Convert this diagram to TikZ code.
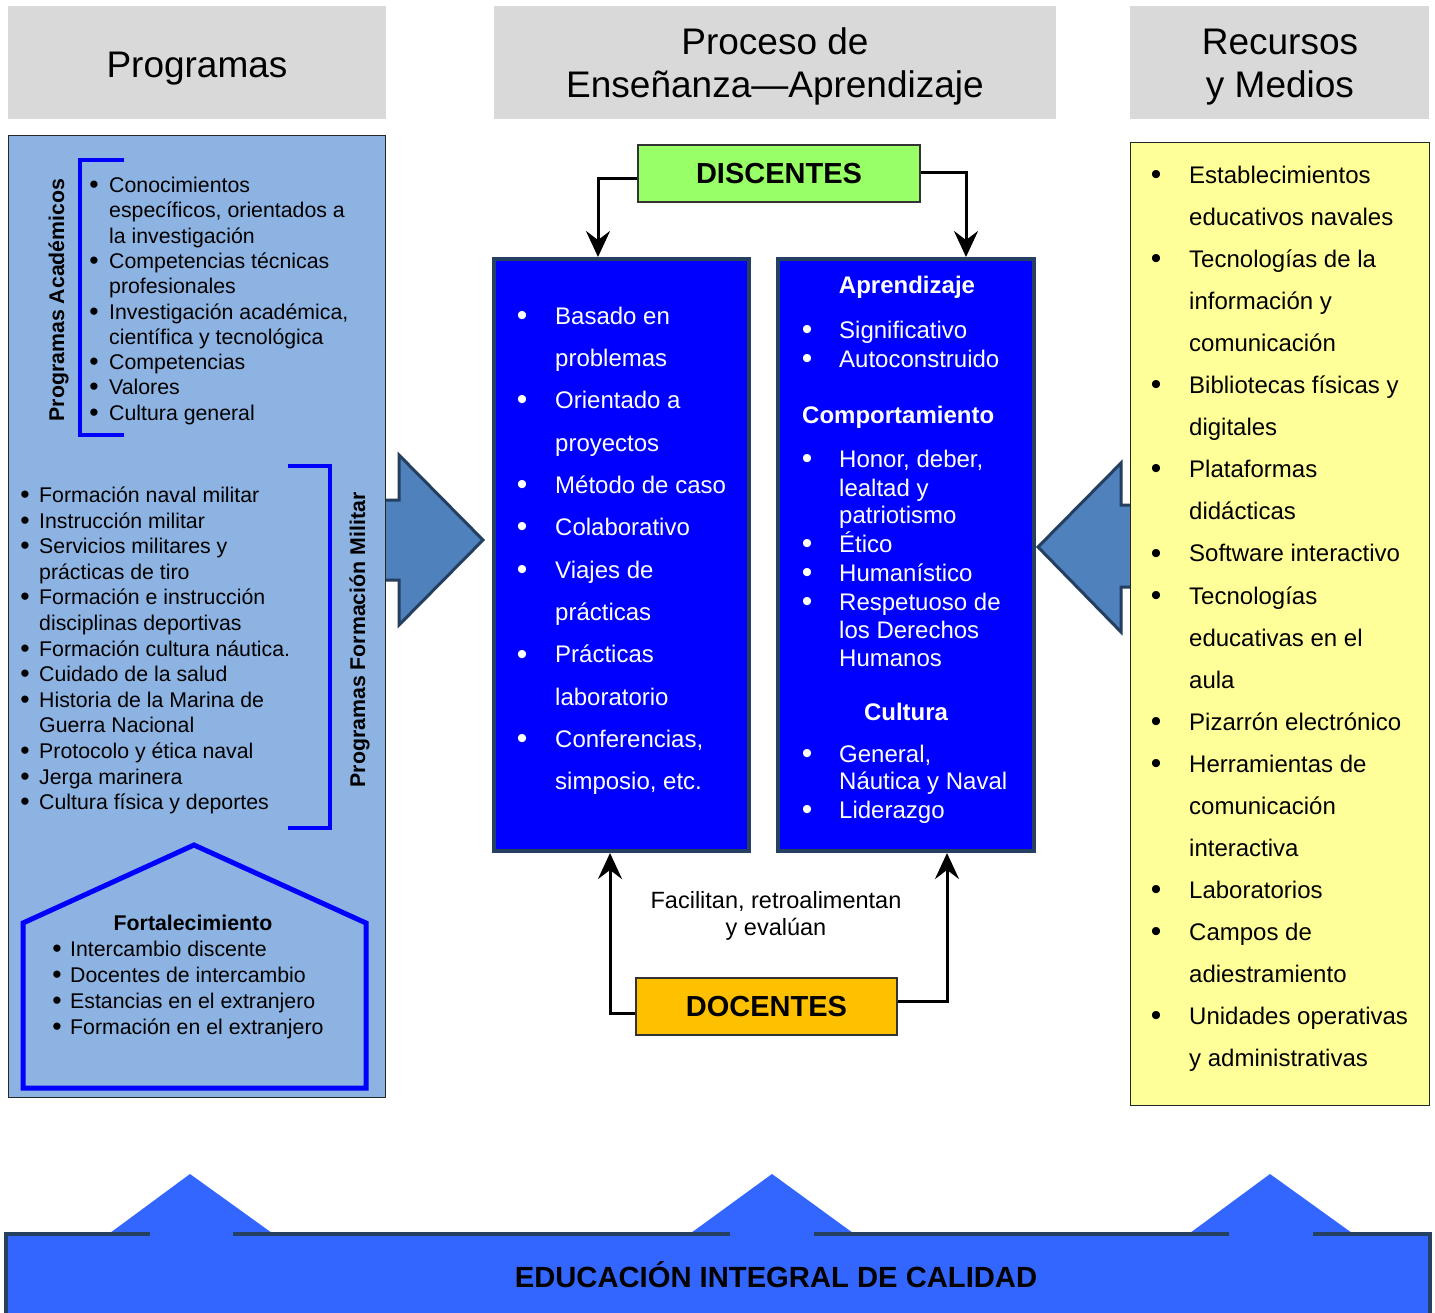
\documentclass[tikz,border=0pt]{standalone}
\usepackage{fontspec}
\setmainfont{Liberation Sans}
\usetikzlibrary{arrows.meta}
\definecolor{hdrgray}{HTML}{D9D9D9}
\definecolor{panelblue}{HTML}{8DB3E2}
\definecolor{arrowfill}{HTML}{4F81BD}
\definecolor{arrowline}{HTML}{243F60}
\definecolor{navy}{HTML}{254061}
\definecolor{pureblue}{HTML}{0000FF}
\definecolor{lightyellow}{HTML}{FFFF99}
\definecolor{lightgreen}{HTML}{99FF66}
\definecolor{amber}{HTML}{FFC000}
\definecolor{bandblue}{HTML}{3366FF}
\newcommand\bigbul{\raisebox{-0.05em}{\scalebox{1.25}{\textbullet}}}
\newcommand\mklist[7]{%
  \foreach \lb/\lt [count=\li from 0] in {#7}{%
    \node[#2, anchor=base west] (#1\li) at (#4,{#5+#6*\li}) {\lt};
    \ifnum\lb=1 \node[#2, anchor=base] (#1b\li) at (#3,{#5+#6*\li}) {\bigbul};\fi
  }}
\tikzset{
  t21/.style={inner sep=0, font=\fontsize{21.3}{25}\selectfont},
  b21/.style={inner sep=0, font=\fontsize{21.3}{25}\selectfont\bfseries},
  t24/.style={inner sep=0, font=\fontsize{24}{28}\selectfont},
  t24w/.style={inner sep=0, text=white, font=\fontsize{24}{28}\selectfont},
  b24w/.style={inner sep=0, text=white, font=\fontsize{24}{28}\selectfont\bfseries},
  hdr/.style={inner sep=0, font=\fontsize{37}{42}\selectfont},
  hdrbox/.style={fill=hdrgray, draw=none, inner sep=0, anchor=north west},
  cbox/.style={fill=pureblue, draw=navy, line width=4pt, inner sep=0},
  tagbox/.style={draw=black!80, line width=1.2pt, inner sep=0, minimum height=57,
     font=\fontsize{29}{34}\selectfont\bfseries},
  conn/.style={line width=3pt, -{Stealth[length=26pt,width=24pt,inset=9pt]}},
  blockarrow/.style={fill=arrowfill, draw=arrowline, line width=3pt, line join=miter},
  bracketline/.style={draw=pureblue, line width=4pt, line join=miter},
}
\begin{document}
\begin{tikzpicture}[x=1pt,y=-1pt]
\useasboundingbox (0,0) rectangle (1435,1312);
\fill[white] (0,0) rectangle (1435,1312);

% headers
\node[hdrbox, minimum width=378, minimum height=113] (h1) at (8,6) {};
\node[hdr, anchor=base] (h1t) at (197,77) {Programas};
\node[hdrbox, minimum width=562, minimum height=113] (h2) at (494,6) {};
\node[hdr, anchor=base] (h2a) at (775,54.5) {Proceso de};
\node[hdr, anchor=base] (h2b) at (775,97) {Enseñanza—Aprendizaje};
\node[hdrbox, minimum width=299, minimum height=113] (h3) at (1130,6) {};
\node[hdr, anchor=base] (h3a) at (1280,54.5) {Recursos};
\node[hdr, anchor=base] (h3b) at (1280,97) {y Medios};

% block arrows (behind panels)
\draw[blockarrow] (372,500) -- (399,500) -- (399,455) -- (483,540) -- (399,625) -- (399,580) -- (372,580) -- cycle;
\draw[blockarrow] (1145,505) -- (1121,505) -- (1121,463) -- (1038,547) -- (1121,632) -- (1121,587) -- (1145,587) -- cycle;

% left panel
\node[draw=black!85, line width=1.2pt, fill=panelblue, minimum width=377, minimum height=962, anchor=north west, inner sep=0] (prog) at (8,135) {};
\draw[bracketline] (124,160) -- (80,160) -- (80,435) -- (124,435);
\draw[bracketline] (288,466) -- (330,466) -- (330,828) -- (288,828);
\draw[draw=pureblue, line width=5pt, line join=miter] (23,1088) -- (23,923) -- (194,845) -- (366,923) -- (366,1088) -- cycle;
\node[b21, rotate=90, anchor=base] (pacad) at (64,300) {Programas Académicos};
\node[b21, rotate=90, anchor=base] (pmil) at (365,640) {Programas Formación Militar};
\mklist{la}{t21}{94}{109}{192.5}{25.3}{1/Conocimientos, 0/{específicos, orientados a}, 0/la investigación, 1/Competencias técnicas, 0/profesionales, 1/{Investigación académica,}, 0/científica y tecnológica, 1/Competencias, 1/Valores, 1/Cultura general}
\mklist{lm}{t21}{25}{39}{502.5}{25.6}{1/Formación naval militar, 1/Instrucción militar, 1/Servicios militares y, 0/prácticas de tiro, 1/Formación e instrucción, 0/disciplinas deportivas, 1/Formación cultura náutica., 1/Cuidado de la salud, 1/Historia de la Marina de, 0/Guerra Nacional, 1/Protocolo y ética naval, 1/Jerga marinera, 1/Cultura física y deportes}
\node[b21, anchor=base] (fort) at (193,930) {Fortalecimiento};
\mklist{lf}{t21}{57}{70}{956.5}{26}{1/Intercambio discente, 1/Docentes de intercambio, 1/Estancias en el extranjero, 1/Formación en el extranjero}

% right panel
\node[draw=black!85, line width=1.2pt, fill=lightyellow, minimum width=299, minimum height=963, anchor=north west, inner sep=0] (rec) at (1130,142) {};
\mklist{ly}{t24}{1156}{1189}{183.3}{42.07}{1/Establecimientos, 0/educativos navales, 1/Tecnologías de la, 0/información y, 0/comunicación, 1/Bibliotecas físicas y, 0/digitales, 1/Plataformas, 0/didácticas, 1/Software interactivo, 1/Tecnologías, 0/educativas en el, 0/aula, 1/Pizarrón electrónico, 1/Herramientas de, 0/comunicación, 0/interactiva, 1/Laboratorios, 1/Campos de, 0/adiestramiento, 1/Unidades operativas, 0/y administrativas}

% center boxes
\node[cbox, minimum width=255, minimum height=592] (bl) at (621.5,555) {};
\node[cbox, minimum width=256, minimum height=592] (br) at (906,555) {};
\mklist{lb}{t24w}{522}{555}{324}{42.35}{1/Basado en, 0/problemas, 1/Orientado a, 0/proyectos, 1/Método de caso, 1/Colaborativo, 1/Viajes de, 0/prácticas, 1/Prácticas, 0/laboratorio, 1/{Conferencias,}, 0/{simposio, etc.}}
\node[b24w, anchor=base] (apr) at (907,293.5) {Aprendizaje};
\node[b24w, anchor=base west] (comp) at (802,423) {Comportamiento};
\node[b24w, anchor=base] (cult) at (906,720) {Cultura};
\foreach \y/\lb/\lt [count=\li] in {338/1/Significativo, 367/1/Autoconstruido, 467.5/1/{Honor, deber,}, 496/0/lealtad y, 523/0/patriotismo, 552/1/Ético, 581/1/Humanístico, 610.5/1/Respetuoso de, 638/0/los Derechos, 666/0/Humanos, 762/1/{General,}, 789.5/0/Náutica y Naval, 818.5/1/Liderazgo}{
  \node[t24w, anchor=base west] (lr\li) at (839,\y) {\lt};
  \ifnum\lb=1 \node[t24w, anchor=base] (lrb\li) at (807,\y) {\bigbul};\fi
}

% discentes / docentes
\node[tagbox, fill=lightgreen, minimum width=282] (disc) at (779,173.5) {DISCENTES};
\node[tagbox, fill=amber, minimum width=261] (doc) at (766.5,1006.5) {DOCENTES};
\draw[conn] ([yshift=-4.5pt]disc.west) -| ([xshift=-23.5pt]bl.north);
\draw[conn] ([yshift=1.5pt]disc.east) -| ([xshift=60pt]br.north);
\draw[conn] ([yshift=-6.5pt]doc.west) -| ([xshift=-11.5pt]bl.south);
\draw[conn] ([yshift=5.5pt]doc.east) -| ([xshift=41pt]br.south);
\node[inner sep=0, font=\fontsize{23.5}{27}\selectfont, anchor=base] (fac1) at (776,908) {Facilitan, retroalimentan};
\node[inner sep=0, font=\fontsize{23.5}{27}\selectfont, anchor=base] (fac2) at (776,935) {y evalúan};

% bottom band
\fill[bandblue] (6,1232) rectangle (1430,1330);
\fill[bandblue] (110,1240) -- (110,1233) -- (190,1174) -- (272,1233) -- (272,1240) -- cycle;
\fill[bandblue] (691,1240) -- (691,1233) -- (772,1174) -- (853,1233) -- (853,1240) -- cycle;
\fill[bandblue] (1190,1240) -- (1190,1233) -- (1270,1174) -- (1352,1233) -- (1352,1240) -- cycle;
\draw[navy, line width=4pt, line join=miter] (6,1330) -- (6,1234) -- (150,1234);
\draw[navy, line width=4pt] (233,1234) -- (730,1234);
\draw[navy, line width=4pt] (814,1234) -- (1229,1234);
\draw[navy, line width=4pt, line join=miter] (1313,1234) -- (1430,1234) -- (1430,1330);
\node[inner sep=0, font=\fontsize{29.2}{34}\selectfont\bfseries, anchor=base] (edu) at (776,1287) {EDUCACIÓN INTEGRAL DE CALIDAD};
\end{tikzpicture}
\end{document}
